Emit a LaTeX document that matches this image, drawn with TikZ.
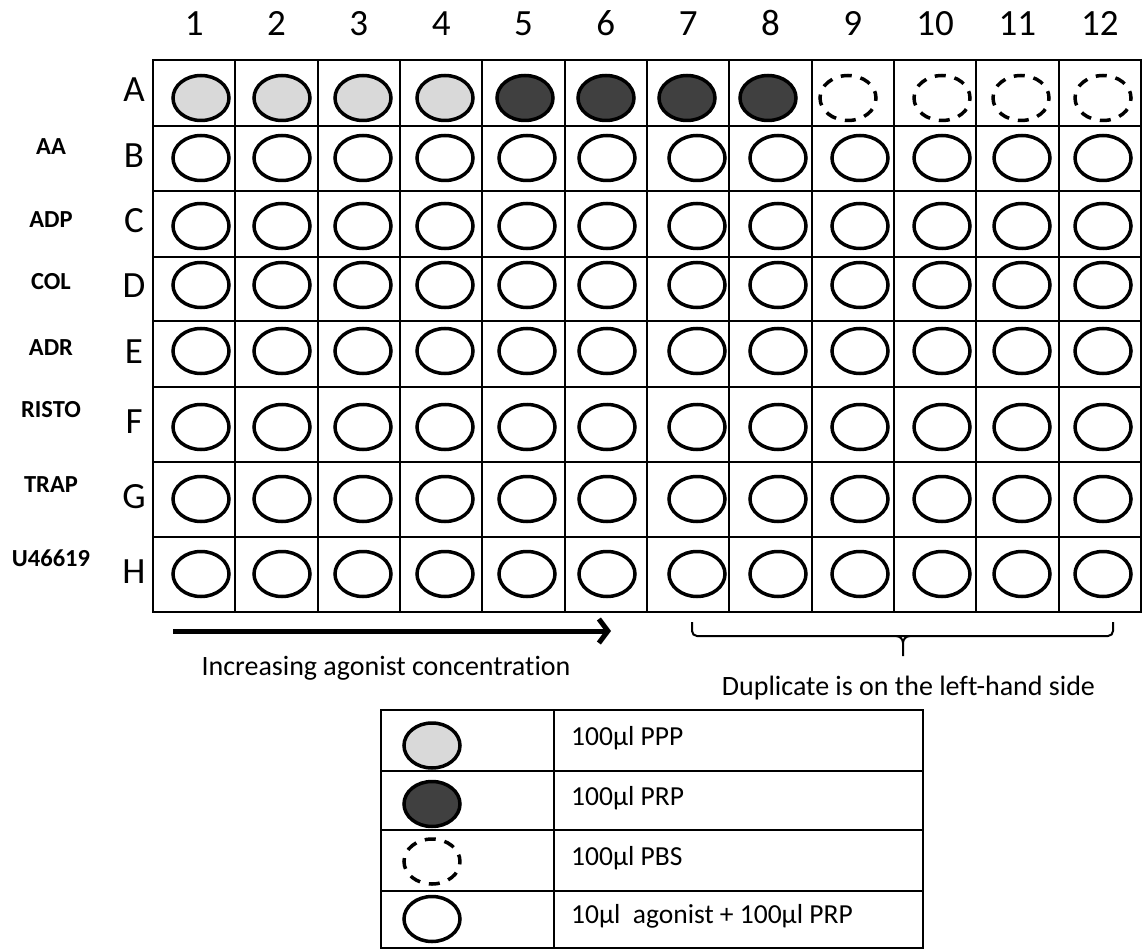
\documentclass[tikz,border=0pt]{standalone}
\usepackage{fontspec}
\setmainfont[Ligatures=NoCommon]{Carlito}
\usetikzlibrary{arrows.meta}
\definecolor{pppgray}{HTML}{D9D9D9}
\definecolor{prpgray}{HTML}{404040}
\begin{document}
\begin{tikzpicture}[x=1pt,y=-1pt,
  well/.style={line width=3.5pt},
  wellppp/.style={well,fill=pppgray},
  wellprp/.style={well,fill=prpgray},
  wellpbs/.style={well,dash pattern=on 11pt off 9pt,dash phase=4pt},
  gridline/.style={line width=2pt},
  bigtext/.style={font=\fontsize{37}{40}\selectfont,inner sep=0pt},
  agent/.style={font=\fontsize{24.5}{28}\selectfont\bfseries,inner sep=0pt},
  captext/.style={font=\fontsize{28}{32}\selectfont,inner sep=0pt},
  legtext/.style={font=\fontsize{27.5}{32}\selectfont,inner sep=0pt},
  legline/.style={line width=2pt}
]
\useasboundingbox (0,0) rectangle (1142,949);
% grid
\foreach \i in {1,...,11}
  \draw[gridline] ({153+\i*82.33},60) -- ({153+\i*82.33},612);
\foreach \y in {126,191,257,321,387,462,537}
  \draw[gridline] (153,\y) -- (1141,\y);
\draw[gridline] (153,60) rectangle (1141,612);
% column numbers
\foreach \i in {1,...,12}
  \node[bigtext,anchor=base] (col\i) at ({153+(\i-0.5)*82.33},36) {\i};
% row letters
\foreach \l/\yc in {A/93,B/158.5,C/224,D/289,E/354,F/424.5,G/499.5,H/574.5}
  \node[bigtext,anchor=base] (row\l) at (134,\yc+9) {\l};
% agent names
\foreach \n/\yb/\id in {AA/155/aa,ADP/228/adp,COL/290/col,ADR/355/adr,RISTO/417/risto,TRAP/492/trap,U46619/566/uf}
  \node[agent,anchor=base] (\id) at (51,\yb) {\n};
% row A wells
\foreach \xc in {201,282,363,445}
  \draw[wellppp] (\xc,98) ellipse [x radius=28pt,y radius=22.5pt];
\foreach \xc in {525,606,687,768}
  \draw[wellprp] (\xc,98) ellipse [x radius=28pt,y radius=22.5pt];
\foreach \xc in {848,942,1021,1103}
  \draw[wellpbs] (\xc,98) ellipse [x radius=28pt,y radius=22.5pt];
% rows B-H wells
\foreach \yc in {158,226,285,351,427,499,574}
  \foreach \xc in {201,282,363,445,527,607,697,778,860,942,1022,1103}
    \draw[well] (\xc,\yc) ellipse [x radius=28pt,y radius=22.5pt];
% arrow
\coordinate (arrS) at (173,631);
\coordinate (arrE) at (611,631);
\draw[line width=5pt,-{Straight Barb[length=9pt,width=24pt]}] (arrS) -- (arrE);
\node[captext,anchor=base] (inc) at (386,675) {Increasing agonist concentration};
% brace
\coordinate (brL) at (692,622);
\coordinate (brR) at (1113,622);
\coordinate (brT) at (903,656);
\draw[line width=2pt,rounded corners=5pt] (brL) -- (692,636) -- (1113,636) -- (brR);
\draw[line width=2pt] (896,636) to[out=0,in=90] (903,643) -- (brT);
\draw[line width=2pt] (910,636) to[out=180,in=90] (903,643);
\node[captext,anchor=base] (dup) at (908.5,695) {Duplicate is on the left-hand side};
% legend
\draw[legline] (381,710) rectangle (923,947.5);
\draw[legline] (554,710) -- (554,947.5);
\foreach \y in {771,830,891}
  \draw[legline] (381,\y) -- (923,\y);
\draw[wellppp] (432,745.5) ellipse [x radius=28pt,y radius=22.5pt];
\draw[wellprp] (432,804) ellipse [x radius=28pt,y radius=22.5pt];
\draw[wellpbs] (432,861.5) ellipse [x radius=28pt,y radius=22.5pt];
\draw[well] (432,919) ellipse [x radius=28pt,y radius=22.5pt];
\node[legtext,anchor=base west] (l1) at (571,745) {100µl PPP};
\node[legtext,anchor=base west] (l2) at (571,805) {100µl PRP};
\node[legtext,anchor=base west] (l3) at (571,865) {100µl PBS};
\node[legtext,anchor=base west] (l4) at (571,923) {10µl~~agonist + 100µl PRP};
\end{tikzpicture}
\end{document}
